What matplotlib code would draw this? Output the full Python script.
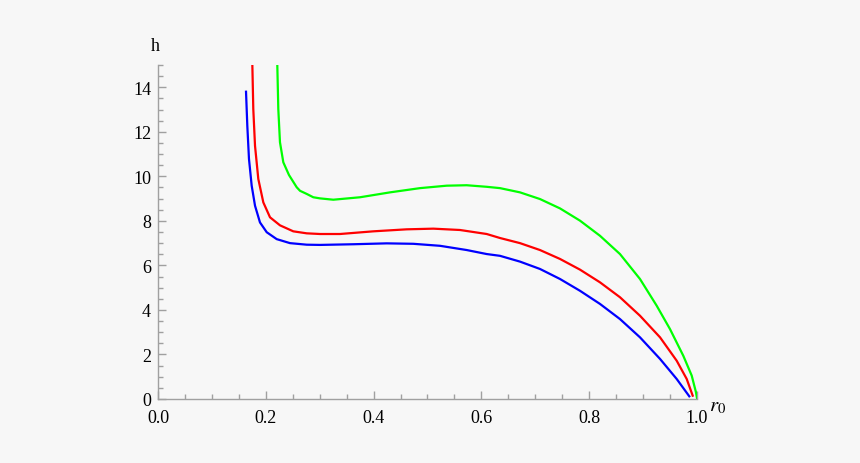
import matplotlib
matplotlib.use("Agg")
import matplotlib.pyplot as plt
from matplotlib.ticker import MultipleLocator, FormatStrFormatter

# values
r_blue = [0.1633, 0.1657, 0.1688, 0.1738, 0.1800, 0.1892, 0.2017, 0.2202, 0.2449,
          0.2759, 0.3006, 0.3623, 0.4243, 0.4737, 0.5232, 0.5727, 0.6098, 0.6345,
          0.6716, 0.7087, 0.7458, 0.7829, 0.8200, 0.8571, 0.8942, 0.9314, 0.9623,
          0.9857]
h_blue = [13.80, 12.27, 10.78, 9.58, 8.68, 7.93, 7.49, 7.18, 7.00,
          6.93, 6.92, 6.95, 6.99, 6.97, 6.88, 6.69, 6.51, 6.43,
          6.17, 5.84, 5.39, 4.86, 4.27, 3.59, 2.77, 1.80, 0.90,
          0.12]

r_red = [0.1750, 0.1768, 0.1800, 0.1861, 0.1954, 0.2078, 0.2263, 0.2510, 0.2759,
         0.3006, 0.3377, 0.3994, 0.4614, 0.5108, 0.5603, 0.6098, 0.6345, 0.6716,
         0.7087, 0.7458, 0.7829, 0.8200, 0.8571, 0.8942, 0.9314, 0.9623, 0.9809,
         0.9920]
h_red = [15.04, 13.02, 11.37, 9.88, 8.83, 8.16, 7.80, 7.53, 7.44,
         7.41, 7.41, 7.53, 7.62, 7.65, 7.59, 7.41, 7.23, 7.00,
         6.69, 6.29, 5.81, 5.24, 4.57, 3.74, 2.77, 1.72, 0.90,
         0.15]

r_green = [0.2213, 0.2232, 0.2263, 0.2325, 0.2430, 0.2573, 0.2635, 0.2759, 0.2881,
           0.3006, 0.3252, 0.3748, 0.4304, 0.4861, 0.5356, 0.5727, 0.6098, 0.6345,
           0.6716, 0.7087, 0.7458, 0.7829, 0.8200, 0.8571, 0.8942, 0.9252, 0.9499,
           0.9746, 0.9902, 0.9981, 0.9999]
h_green = [15.04, 13.02, 11.53, 10.63, 10.06, 9.51, 9.35, 9.21, 9.06,
           9.01, 8.95, 9.06, 9.28, 9.47, 9.58, 9.60, 9.53, 9.47,
           9.28, 8.98, 8.56, 8.01, 7.33, 6.51, 5.39, 4.19, 3.14,
           1.94, 1.05, 0.30, 0.05]

bg = "#f7f7f7"
axcol = "#a0a0a0"

plt.rcParams["mathtext.fontset"] = "stix"
fig = plt.figure(figsize=(8.6, 4.64), dpi=100, facecolor=bg)
ax = fig.add_axes([158/860, 64/464, 539/860, 334/464])
ax.set_facecolor(bg)

# curves, cut at the top of the frame like the original
ax.plot(r_blue, h_blue, color="#0000ff", lw=1.6, solid_joinstyle="round")
ax.plot(r_red, h_red, color="#ff0000", lw=1.6, solid_joinstyle="round")
ax.plot(r_green, h_green, color="#00ff00", lw=1.6, solid_joinstyle="round")

ax.set_xlim(0, 1.0)
ax.set_ylim(0, 15)

for s in ["top", "right"]:
    ax.spines[s].set_visible(False)
for s in ["left", "bottom"]:
    ax.spines[s].set_color(axcol)
    ax.spines[s].set_linewidth(1.0)

ax.xaxis.set_major_locator(MultipleLocator(0.2))
ax.xaxis.set_minor_locator(MultipleLocator(0.05))
ax.yaxis.set_major_locator(MultipleLocator(2))
ax.yaxis.set_minor_locator(MultipleLocator(0.5))
ax.xaxis.set_major_formatter(FormatStrFormatter("%.1f"))
ax.tick_params(which="major", direction="in", length=6, width=1, color=axcol,
               labelsize=13)
ax.tick_params(axis="x", which="major", pad=7)
ax.tick_params(axis="y", which="major", pad=5)
ax.tick_params(which="minor", direction="in", length=3.5, width=1, color=axcol)
for lab in ax.get_xticklabels() + ax.get_yticklabels():
    lab.set_family("Liberation Serif")

fig.text(155/860, 1 - 47/464, "h", family="Liberation Serif", fontsize=13,
         ha="center", va="center")
fig.text(718/860, 1 - 406/464, "$r_0$", fontsize=15, ha="center", va="center")

fig.savefig("out.png", dpi=100, facecolor=bg)
